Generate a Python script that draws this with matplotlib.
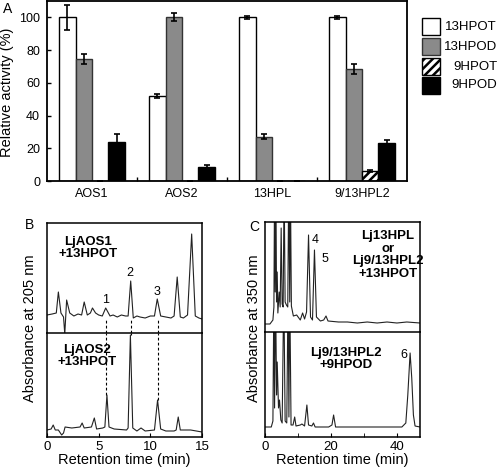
import numpy as np
import matplotlib.pyplot as plt
from matplotlib.patches import Rectangle

plt.rcParams['font.family'] = ['Liberation Sans', 'DejaVu Sans']
plt.rcParams['hatch.linewidth'] = 1.8

# ---- panel A: relative activity ----
enzymes = ['AOS1', 'AOS2', '13HPL', '9/13HPL2']
substrates = ['13HPOT', '13HPOD', '9HPOT', '9HPOD']
hpot13 = [100, 52, 100, 100]
hpot13_err = [7.5, 1, 0.7, 0.7]
hpod13 = [74.5, 100, 27, 68.5]
hpod13_err = [3, 2.5, 1.5, 3]
hpot9 = [0, 0, 0, 6]
hpot9_err = [0, 0, 0, 0.5]
hpod9 = [24, 8.3, 0, 23]
hpod9_err = [4.5, 1.5, 0, 2]

# ---- panel B: HPLC at 205 nm (time min, absorbance) ----
aos1_trace = [(0, 18), (0.5, 19), (0.9, 20), (1.1, 41), (1.35, 20), (1.6, 16), (1.72, -1),
              (1.9, 33), (2.2, 20), (2.6, 17), (3.0, 19), (3.35, 18), (3.6, 31), (3.9, 18),
              (4.2, 20), (4.4, 25), (4.7, 20), (5.0, 18), (5.35, 17), (5.68, 25), (6.1, 17),
              (6.4, 18), (6.8, 16), (7.2, 18), (7.6, 17), (7.85, 17), (8.1, 52), (8.35, 15),
              (8.7, 17), (9.0, 16), (9.5, 15), (10.0, 17), (10.4, 17), (10.67, 34), (11.0, 17),
              (11.5, 16), (12.0, 15), (12.3, 17), (12.6, 56), (12.9, 16), (13.2, 15), (13.6, 18),
              (14.0, 99), (14.35, 17), (14.7, 15), (15.0, 14)]
aos2_trace = [(0, 7), (0.4, 8), (0.6, 12), (0.8, 7), (1.1, 7), (1.42, 2), (1.6, 4), (1.75, 10),
              (2.4, 9), (3.2, 10), (3.4, 14), (3.6, 9), (4.3, 10), (4.58, 19), (4.8, 8),
              (5.4, 9), (5.6, 10), (5.8, 42), (6.0, 10), (6.5, 8), (7.7, 7), (7.85, 9),
              (8.07, 102), (8.3, 9), (8.7, 6), (9.1, 9), (9.5, 6), (10.4, 7), (10.7, 37),
              (11.0, 8), (11.5, 6), (12.3, 6), (12.5, 7), (12.7, 20), (12.9, 7), (13.9, 7),
              (15.0, 5)]
b_peak_t = [5.75, 8.1, 10.7]
b_peak_top = [42, 102, 37]
b_peak_names = ['1', '2', '3']
b_label_y = [33, 60, 41]

# ---- panel C: HPLC at 350 nm ----
hpl_trace = [(0, 8), (1.5, 8), (2.4, 12), (2.7, 25), (2.9, 150), (3.1, 40), (3.3, 150), (3.5, 30),
             (3.7, 60), (3.9, 19), (4.3, 40), (4.6, 25), (4.9, 104), (5.2, 28), (5.5, 25),
             (5.8, 150), (6.1, 30), (6.5, 27), (6.9, 25), (7.2, 150), (7.5, 30), (7.7, 150),
             (8.0, 26), (8.6, 16), (9.6, 17), (10.7, 12), (11.4, 19), (12.0, 13), (12.6, 20),
             (13.2, 97), (13.8, 15), (14.4, 12), (15.0, 82), (15.6, 15), (16.8, 11), (17.8, 12),
             (18.5, 16), (19.1, 11), (22.3, 10), (25.0, 10), (28.0, 9), (31.0, 10), (34.0, 9),
             (37.0, 10), (40.0, 9), (43.0, 10), (47.0, 9)]
hpl2_trace = [(0, 10), (1.9, 10), (2.4, 16), (2.7, 150), (2.9, 29), (3.2, 150), (3.5, 42),
              (3.7, 75), (4.1, 29), (4.4, 37), (4.8, 17), (5.2, 14), (5.7, 150), (6.1, 16),
              (6.6, 14), (7.0, 150), (7.25, 20), (7.5, 150), (7.9, 12), (8.5, 12), (9.0, 20),
              (9.4, 11), (10.7, 12), (11.2, 13), (12.0, 11), (12.7, 32), (13.2, 12), (14.2, 11),
              (14.7, 14), (15.2, 10), (19.3, 10), (20.3, 12), (20.8, 22), (21.4, 10), (25.4, 10),
              (32.4, 10), (41.5, 10), (42.7, 14), (43.3, 42), (44.0, 84), (44.5, 59), (45.0, 22),
              (45.5, 11), (47.0, 10)]
c_peak_names = ['4', '5', '6']
c_peak_pos = [(15.2, 92), (18.1, 73), (42.0, 82)]

W, H = 500, 470


def box(l, t, r, b):
    return [l / W, 1 - b / H, (r - l) / W, (b - t) / H]


def fig_text(x, y, s, **kw):
    fig.text(x / W, 1 - y / H, s, **kw)


fig = plt.figure(figsize=(5, 4.7), dpi=100)

# ---------- panel A ----------
ax = fig.add_axes(box(47, 1, 407, 181))
x = np.arange(len(enzymes))
w = 0.183
series = [(hpot13, hpot13_err, dict(facecolor='white', edgecolor='black')),
          (hpod13, hpod13_err, dict(facecolor='#8a8a8a', edgecolor='#333333')),
          (hpot9, hpot9_err, dict(facecolor='white', edgecolor='black', hatch='////')),
          (hpod9, hpod9_err, dict(facecolor='black', edgecolor='black'))]
for i, (vals, errs, st) in enumerate(series):
    pos = x + (i - 1.5) * w
    ax.bar(pos, vals, width=w, linewidth=1.0, **st)
    ax.errorbar(pos, vals, yerr=errs, fmt='none', ecolor='black', elinewidth=1.2,
                capsize=2.5, capthick=1.2)
ax.set_xlim(-0.5, 3.5)
ax.set_ylim(0, 110)
ax.set_xticks(x)
ax.set_xticklabels(enzymes)
ax.set_xticks([0.5, 1.5, 2.5], minor=True)
ax.set_yticks(range(0, 101, 20))
ax.tick_params(axis='x', which='major', length=0, pad=5, labelsize=9)
ax.tick_params(axis='x', which='minor', length=3, direction='in', width=1)
ax.tick_params(axis='y', length=3, direction='in', width=1, pad=5, labelsize=9)
for s in ax.spines.values():
    s.set_linewidth(1.3)

# legend drawn by hand (labels are right aligned)
leg_tops = [18, 38, 58, 77]
for (vals, errs, st), name, top in zip(series, substrates, leg_tops):
    fig.patches.append(Rectangle((422 / W, 1 - (top + 17) / H), 18 / W, 17 / H,
                                 transform=fig.transFigure, linewidth=1.0, **st))
    fig_text(497, top + 8.5, name, ha='right', va='center', fontsize=9.5)

fig_text(3, 2, 'A', ha='left', va='top', fontsize=10)
fig_text(7.5, 92, 'Relative activity (%)', rotation=90, ha='center', va='center', fontsize=10.5)

# ---------- panel B ----------
trace_kw = dict(color='#222222', linewidth=0.8)
dash_kw = dict(colors='black', linestyles=(0, (2.5, 2)), linewidth=0.8)

bt = fig.add_axes(box(47, 223, 202, 333))
bb = fig.add_axes(box(47, 333, 202, 437))
t1, a1 = zip(*aos1_trace)
t2, a2 = zip(*aos2_trace)
bt.plot(t1, a1, **trace_kw)
bb.plot(t2, a2, **trace_kw)
bt.set_ylim(0, 110)
bb.set_ylim(0, 104)
bt.vlines(b_peak_t, 0, 13, **dash_kw)
bb.vlines(b_peak_t, b_peak_top, 104, **dash_kw)
for t, name, yl in zip(b_peak_t, b_peak_names, b_label_y):
    bt.text(t - 0.05, yl, name, ha='center', va='center', fontsize=9)
bt.text(4.0, 85, 'LjAOS1\n+13HPOT', ha='center', va='center', fontsize=9.5,
        fontweight='bold', linespacing=1.05)
bb.text(3.9, 81, 'LjAOS2\n+13HPOT', ha='center', va='center', fontsize=9.5,
        fontweight='bold', linespacing=1.05)
for a in (bt, bb):
    a.set_xlim(0, 15)
bt.set_xticks([])
bt.set_yticks([])
bt.spines['bottom'].set_visible(False)
bb.set_yticks([])
bb.set_xticks([0, 5, 10, 15])
bb.tick_params(axis='x', direction='in', length=3, pad=3, labelsize=9.5)

fig_text(25, 218, 'B', ha='left', va='top', fontsize=10)
fig_text(30, 328, 'Absorbance at 205 nm', rotation=90, ha='center', va='center', fontsize=10.5)
fig_text(124, 460, 'Retention time (min)', ha='center', va='center', fontsize=10.5)

# ---------- panel C ----------
ct = fig.add_axes(box(265, 222, 420, 332))
cb = fig.add_axes(box(265, 332, 420, 437))
t3, a3 = zip(*hpl_trace)
t4, a4 = zip(*hpl2_trace)
ct.plot(t3, a3, **trace_kw)
cb.plot(t4, a4, **trace_kw)
ct.set_ylim(0, 110)
cb.set_ylim(0, 105)
ct.text(*c_peak_pos[0], c_peak_names[0], ha='center', va='center', fontsize=9)
ct.text(*c_peak_pos[1], c_peak_names[1], ha='center', va='center', fontsize=9)
cb.text(*c_peak_pos[2], c_peak_names[2], ha='center', va='center', fontsize=9)
ct.text(37.2, 77, 'Lj13HPL\nor\nLj9/13HPL2\n+13HPOT', ha='center', va='center',
        fontsize=9.5, fontweight='bold', linespacing=1.05)
cb.text(24.5, 78, 'Lj9/13HPL2\n+9HPOD', ha='center', va='center', fontsize=9.5,
        fontweight='bold', linespacing=1.05)
for a in (ct, cb):
    a.set_xlim(0, 47)
ct.set_xticks([])
ct.set_yticks([])
ct.spines['bottom'].set_visible(False)
cb.set_yticks([])
cb.set_xticks([0, 20, 40])
cb.set_xticks([10, 30], minor=True)
cb.tick_params(axis='x', which='both', direction='in', length=3, pad=3, labelsize=9.5)

fig_text(249, 220, 'C', ha='left', va='top', fontsize=10)
fig_text(254, 328, 'Absorbance at 350 nm', rotation=90, ha='center', va='center', fontsize=10.5)
fig_text(342, 460, 'Retention time (min)', ha='center', va='center', fontsize=10.5)

for a in (bt, bb, ct, cb):
    for s in a.spines.values():
        s.set_linewidth(1.1)

fig.savefig('out.png', dpi=100)
